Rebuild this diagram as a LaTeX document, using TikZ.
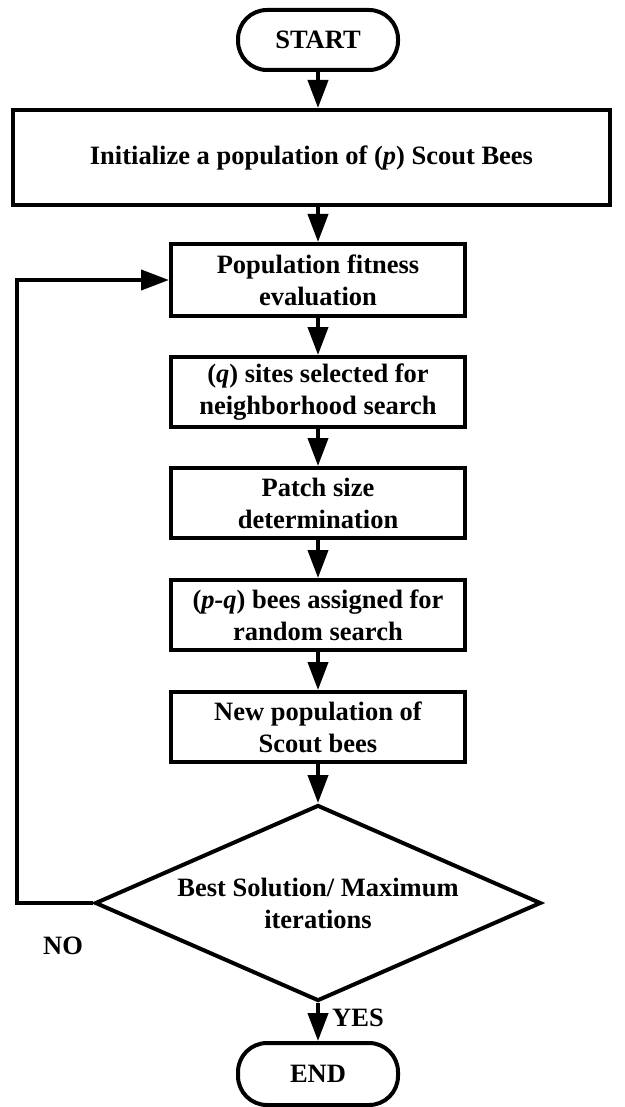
\documentclass[tikz,border=0pt]{standalone}
\usepackage{fontspec}
\setmainfont{Liberation Serif}
\usetikzlibrary{arrows.meta,shapes.geometric}
\begin{document}
\begin{tikzpicture}[x=1pt,y=-1pt,
  every node/.style={font=\fontsize{26.5}{32}\selectfont\bfseries, align=center},
  terminal/.style={draw, line width=4pt, rounded corners=29pt, minimum width=160pt, minimum height=60pt, inner sep=0pt},
  procbox/.style={draw, line width=4pt, minimum width=294pt, minimum height=70pt, inner sep=0pt},
  decision/.style={draw, line width=4pt, shape=diamond, aspect=2.27, minimum width=446pt, minimum height=196pt, inner sep=0pt},
  arr/.style={line width=4pt, -{Triangle[length=28pt,width=20pt]}},
  tag/.style={font=\fontsize{26.5}{30}\selectfont\bfseries}]
\path[use as bounding box] (0,0) rectangle (624,1107);

% process chain
\node[terminal] (start) at (318,40) {START};
\node[draw, line width=4pt, minimum width=597pt, minimum height=95pt, inner sep=0pt] (init) at (311.5,157.5)
  {Initialize a population of (\textit{p}) Scout Bees};
\node[procbox, minimum height=72pt] (fit) at (318,280) {Population fitness\\evaluation};
\node[procbox] (sites) at (318,392) {(\textit{q}) sites selected for\\neighborhood search};
\node[procbox] (patch) at (318,503) {Patch size\\determination};
\node[procbox] (pq) at (318,615) {(\textit{p-q}) bees assigned for\\random search};
\node[procbox] (newpop) at (318,727) {New population of\\Scout bees};
\node[decision] (dec) at (318,903) {Best Solution/ Maximum\\iterations};
\node[terminal, minimum height=62pt] (end) at (318,1074) {END};

% connectors
\draw[arr] (start.south) -- (start.south |- init.north);
\draw[arr] (start.south |- init.south) -- (fit.north);
\draw[arr] (fit.south) -- (sites.north);
\draw[arr] (sites.south) -- (patch.north);
\draw[arr] (patch.south) -- (pq.north);
\draw[arr] (pq.south) -- (newpop.north);
\draw[arr] (newpop.south) -- (dec.north);
\draw[arr] (dec.south) -- (end.north);
\draw[arr] (dec.west) -- ++(-76,0) |- (fit.west);

% branch labels
\node[tag] (no) at (63,946) {NO};
\node[tag] (yes) at (358,1018) {YES};
\end{tikzpicture}
\end{document}
